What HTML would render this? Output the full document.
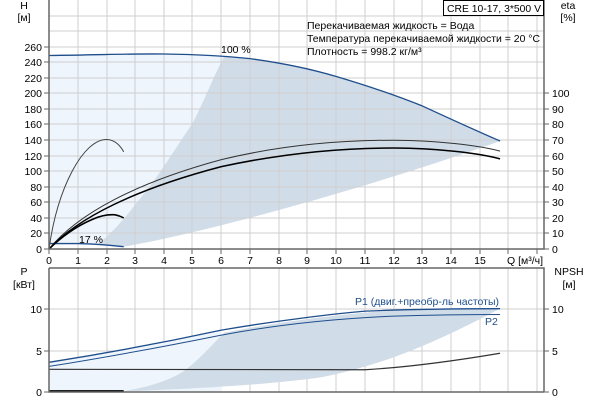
<!DOCTYPE html>
<html><head><meta charset="utf-8"><style>
body{margin:0;background:#fff}
svg{display:block;font-family:"Liberation Sans","DejaVu Sans",sans-serif;font-size:10.5px}
</style></head><body>
<svg width="600" height="400" viewBox="0 0 600 400">
<g transform="translate(49,249) scale(28.73,-0.777)">
 <path d="M0,249 C2,250 3,251.5 4,251 C5,250.5 6,249 7,245 C8,240 9,233 10,222 C11,211 12,199 13,184 C14,167 15,150 15.7,139 C12,90 6,25 2.6,3 L2,5 L1,7 L0,7 Z" fill="#eef5fc"/>
 <path d="M1.67,5 C2.5,30 3,58 3.5,80 C4,105 4.5,135 5,162 C5.4,190 5.7,220 6.1,248 C7,245 8,240 9,233 C10,222 11,211 12,199 C13,184 14,167 15,150 L15.7,139 C12,90 6,25 2.6,3 Z" fill="#d0dce7"/>
</g>
<g stroke="#cfcfcf" stroke-width="1">
 <path d="M78,0V249M107,0V249M135,0V249M164,0V249M192,0V249M221,0V249M250,0V249M279,0V249M307,0V249M336,0V249M365,0V249M394,0V249M422,0V249M451,0V249M480,0V249M508,0V249M537,0V249"/>
 <path d="M49,16H544M49,31H544M49,47H544M49,62H544M49,78H544M49,93H544M49,109H544M49,124H544M49,140H544M49,156H544M49,171H544M49,187H544M49,202H544M49,218H544M49,233H544"/>
 <path d="M78,268V392M107,268V392M135,268V392M164,268V392M192,268V392M221,268V392M250,268V392M279,268V392M307,268V392M336,268V392M365,268V392M394,268V392M422,268V392M451,268V392M480,268V392M508,268V392M537,268V392"/>
 <path d="M49,309H544M49,351H544"/>
</g>
<g transform="translate(49,249) scale(28.73,-0.777)" fill="none">
 <path d="M0,249 C2,250 3,251.5 4,251 C5,250.5 6,249 7,245 C8,240 9,233 10,222 C11,211 12,199 13,184 C14,167 15,150 15.7,139" stroke="#1f4e8c" stroke-width="1.3" vector-effect="non-scaling-stroke"/>
 <path d="M0,7 L1,7 C1.6,6.5 2,5.5 2.6,3" stroke="#1f4e8c" stroke-width="1.3" vector-effect="non-scaling-stroke"/>
 <path d="M0,0 C0.3,80 1.2,141 2,141 C2.3,141 2.5,132 2.6,125" stroke="#444" stroke-width="1" vector-effect="non-scaling-stroke"/>
 <path d="M0,0 C0.5,18 1,30 1.5,38 C1.8,43 2.1,44.5 2.3,44 C2.45,43 2.55,41 2.6,40" stroke="#000" stroke-width="1.6" vector-effect="non-scaling-stroke"/>
 <path d="M0,0 C1,45 3,85 6,115 C8,133 10,140 12,140 C13.5,140 15,133 15.7,126" stroke="#333" stroke-width="1" vector-effect="non-scaling-stroke"/>
 <path d="M0,0 C1,40 3,77 6,106 C8,122 10,130 12,130 C13.5,130 15,123 15.7,116" stroke="#000" stroke-width="1.5" vector-effect="non-scaling-stroke"/>
</g>
<g transform="translate(49,392) scale(28.73,-8.25)">
 <path d="M0,0 L0,3.6 C2,4.7 4,6.0 6,7.5 L6,0 Z" fill="#eef5fc"/>
 <path d="M2.6,0.1 C3.5,0.6 4.3,1.5 4.8,2.8 C5.3,4.2 5.7,5.8 6.1,7.2 C8,8.5 10,9.4 12,9.9 C14,10.1 15,10.1 15.7,10.1 C14,7 12,3.5 9.5,1.8 C7.5,0.8 4.5,0.3 2.6,0.1 Z" fill="#d0dce7"/>
</g>
<g transform="translate(49,392) scale(28.73,-8.25)" fill="none">
 <path d="M0,3.6 C2,4.7 4,6.0 6,7.5 C8,8.7 10,9.5 11,9.8 C13,10.1 14.5,10.1 15.7,10.1" stroke="#1f4e8c" stroke-width="1.3" vector-effect="non-scaling-stroke"/>
 <path d="M0,3.1 C2,4.2 4,5.5 6,6.9 C8,8.2 10,8.9 12,9.2 C14,9.4 15,9.4 15.7,9.4" stroke="#1f4e8c" stroke-width="1" vector-effect="non-scaling-stroke"/>
 <path d="M0,2.75 L11,2.7 C12.5,3 14,3.7 15.7,4.7" stroke="#333" stroke-width="1.2" vector-effect="non-scaling-stroke"/>
 <path d="M0,0.1 L2.6,0.1" stroke="#000" stroke-width="2" vector-effect="non-scaling-stroke"/>
</g>
<g stroke="#666" stroke-width="1.5" fill="none">
 <path d="M49,0V249H544V0"/>
 <path d="M49,268H544V392M49,268V392H544"/>
</g>
<g stroke="#666" stroke-width="1">
 <path d="M44,249H49M44,233H49M44,218H49M44,202H49M44,187H49M44,171H49M44,156H49M44,140H49M44,124H49M44,109H49M44,93H49M44,78H49M44,62H49M44,47H49"/>
 <path d="M544,249H549M544,233H549M544,218H549M544,202H549M544,187H549M544,171H549M544,156H549M544,140H549M544,124H549M544,109H549M544,93H549"/>
 <path d="M44,392H49M44,351H49M44,309H49M544,392H549M544,351H549M544,309H549"/>
 <path d="M49,249V254M78,249V254M107,249V254M135,249V254M164,249V254M192,249V254M221,249V254M250,249V254M279,249V254M307,249V254M336,249V254M365,249V254M394,249V254M422,249V254M451,249V254M480,249V254M508,249V254M537,249V254"/>
</g>
<g fill="#000" text-anchor="end">
 <text x="42" y="253">0</text><text x="42" y="237">20</text><text x="42" y="222">40</text><text x="42" y="206">60</text><text x="42" y="191">80</text><text x="42" y="175">100</text><text x="42" y="160">120</text><text x="42" y="144">140</text><text x="42" y="128">160</text><text x="42" y="113">180</text><text x="42" y="97">200</text><text x="42" y="82">220</text><text x="42" y="66">240</text><text x="42" y="51">260</text>
 <text x="42" y="396">0</text><text x="42" y="355">5</text><text x="42" y="313">10</text>
</g>
<g fill="#000" text-anchor="start">
 <text x="552" y="253">0</text><text x="552" y="237">10</text><text x="552" y="222">20</text><text x="552" y="206">30</text><text x="552" y="191">40</text><text x="552" y="175">50</text><text x="552" y="160">60</text><text x="552" y="144">70</text><text x="552" y="128">80</text><text x="552" y="113">90</text><text x="552" y="97">100</text>
 <text x="552" y="396">0</text><text x="552" y="355">5</text><text x="552" y="313">10</text>
</g>
<g fill="#000" text-anchor="middle">
 <text x="49" y="264">0</text><text x="78" y="264">1</text><text x="107" y="264">2</text><text x="135" y="264">3</text><text x="164" y="264">4</text><text x="192" y="264">5</text><text x="221" y="264">6</text><text x="250" y="264">7</text><text x="279" y="264">8</text><text x="307" y="264">9</text><text x="336" y="264">10</text><text x="365" y="264">11</text><text x="394" y="264">12</text><text x="422" y="264">13</text><text x="451" y="264">14</text><text x="480" y="264">15</text>
 <text x="24" y="9">H</text><text x="24" y="21">[м]</text>
 <text x="568" y="9">eta</text><text x="568" y="21">[%]</text>
 <text x="24" y="275">P</text><text x="24" y="288">[кВт]</text>
 <text x="569" y="275">NPSH</text><text x="569" y="288">[м]</text>
</g>
<text x="507" y="264" fill="#000">Q [м³/ч]</text>
<rect x="443.5" y="0.5" width="100" height="15" fill="#fff" stroke="#000"/>
<text x="447" y="12" fill="#000" textLength="94" lengthAdjust="spacingAndGlyphs">CRE 10-17, 3*500 V</text>
<text x="307" y="29" fill="#000">Перекачиваемая жидкость = Вода</text>
<text x="307" y="42" fill="#000" textLength="233" lengthAdjust="spacingAndGlyphs">Температура перекачиваемой жидкости = 20 °C</text>
<text x="307" y="55" fill="#000">Плотность = 998.2 кг/м³</text>
<text x="221" y="53" fill="#000">100 %</text>
<text x="79" y="243" fill="#000">17 %</text>
<text x="355" y="305" fill="#1f4e8c" textLength="144" lengthAdjust="spacingAndGlyphs">P1 (двиг.+преобр-ль частоты)</text>
<text x="485" y="325" fill="#1f4e8c">P2</text>
</svg>
</body></html>
